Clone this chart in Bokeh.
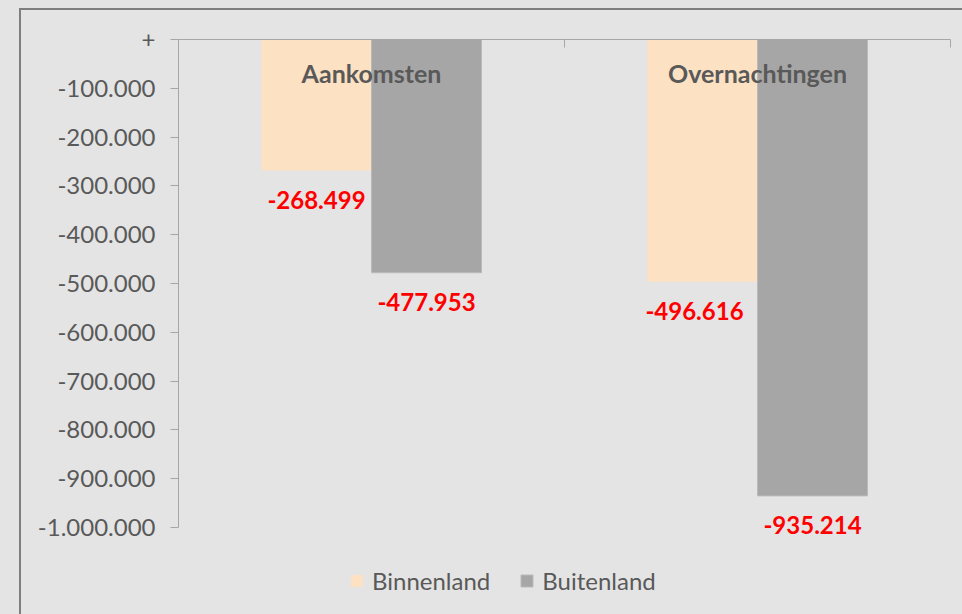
from bokeh.plotting import figure
from bokeh.models import (ColumnDataSource, Range1d, FixedTicker,
                          GlobalInlineStyleSheet)
from bokeh.core.properties import value
from bokeh.embed import file_html
from bokeh.resources import INLINE

# ---- data ----
categories = ["Aankomsten", "Overnachtingen"]
series_names = ["Binnenland", "Buitenland"]
binnenland = [-268499, -496616]
buitenland = [-477953, -935214]
y_ticks = [0, -100000, -200000, -300000, -400000, -500000,
           -600000, -700000, -800000, -900000, -1000000]
y_tick_labels = ["+", "-100.000", "-200.000", "-300.000", "-400.000", "-500.000",
                 "-600.000", "-700.000", "-800.000", "-900.000", "-1.000.000"]

def nl(v):
    return "{:,}".format(v).replace(",", ".")

BG = "#e4e4e4"
PEACH = "#fde1c3"
GREY = "#a6a6a6"
TXT = "#595959"
FONT = "Lato"

# ---- layout geometry (pixels) ----
W, H = 962, 614
PLOT_L, PLOT_T, PLOT_R, PLOT_B = 178, 39, 950, 527   # axis box of the plot area
y_min, y_max = min(y_ticks), max(y_ticks)
ncat = len(categories)
y_lo = y_max - (y_max - y_min) * (H - PLOT_T) / (PLOT_B - PLOT_T)
x_hi = ncat * (W - PLOT_L) / (PLOT_R - PLOT_L)
binnen_label_nudge = [0, -8]   # horizontal pixel nudge of Binnenland labels

css = ("body{background:%s;margin:0;}"
       "body::after{content:'';position:fixed;left:19px;top:8px;width:3000px;"
       "height:3000px;border-left:2px solid #7f7f7f;border-top:2px solid #7f7f7f;"
       "pointer-events:none;z-index:100;}" % BG)

p = figure(width=W, height=H, output_backend="svg", toolbar_location=None,
           x_range=Range1d(0, x_hi), y_range=Range1d(y_lo, y_max),
           x_axis_location="above",
           min_border_left=PLOT_L, min_border_top=PLOT_T, min_border_right=0,
           min_border_bottom=0,
           background_fill_color=BG, border_fill_color=BG, outline_line_color=None,
           stylesheets=[GlobalInlineStyleSheet(css=css)])

p.xgrid.visible = False
p.ygrid.visible = False

idx = list(range(ncat))
bw = 0.285
src = ColumnDataSource(dict(
    cat=categories,
    xc=[i + 0.5 for i in idx],
    x1=[i + 0.5 - bw / 2 for i in idx],
    x2=[i + 0.5 + bw / 2 for i in idx],
    b1=binnenland, b2=buitenland,
    l1=[nl(v) for v in binnenland], l2=[nl(v) for v in buitenland],
    n1=binnen_label_nudge, n2=[0] * ncat,
    zero=[0] * ncat,
))

p.vbar(x="x1", top="zero", bottom="b1", width=bw, source=src,
       fill_color=PEACH, line_color=None, legend_label=series_names[0])
p.vbar(x="x2", top="zero", bottom="b2", width=bw, source=src,
       fill_color=GREY, line_color="#bababa", line_width=1,
       legend_label=series_names[1])

# data labels
for xcol, ycol, lcol, ncol in [("x1", "b1", "l1", "n1"), ("x2", "b2", "l2", "n2")]:
    p.text(x=xcol, y=ycol, text=lcol, source=src, text_align="center",
           text_baseline="middle", x_offset=ncol, y_offset=29, text_color="#ff0000",
           text_font=value(FONT), text_font_style="bold", text_font_size="24px")

# category labels inside the plot at top
p.text(x="xc", y="zero", text="cat", source=src, text_align="center",
       text_baseline="middle", y_offset=33, text_color=TXT,
       text_font=value(FONT), text_font_style="bold", text_font_size="25px")

# x axis (top)
xa = p.xaxis[0]
xa.ticker = FixedTicker(ticks=[float(i) for i in range(ncat + 1)])
xa.bounds = (0, ncat)
xa.major_tick_in = 8
xa.major_tick_out = 0
xa.minor_tick_line_color = None
xa.major_label_text_font_size = "0px"
xa.major_label_text_alpha = 0
xa.axis_line_color = GREY
xa.major_tick_line_color = GREY

# y axis
ya = p.yaxis[0]
ya.ticker = FixedTicker(ticks=y_ticks)
ya.bounds = (y_min, y_max)
ya.major_label_overrides = {t: l for t, l in zip(y_ticks, y_tick_labels)}
ya.major_tick_in = 0
ya.major_tick_out = 8
ya.minor_tick_line_color = None
ya.axis_line_color = GREY
ya.major_tick_line_color = GREY
ya.major_label_text_color = TXT
ya.major_label_text_font = FONT
ya.major_label_text_font_size = "24px"
ya.major_label_standoff = 15

# legend
lg = p.legend[0]
lg.orientation = "horizontal"
lg.location = (171, 19)
lg.background_fill_alpha = 0
lg.border_line_color = None
lg.padding = 0
lg.margin = 0
lg.spacing = 29
lg.glyph_width = 15
lg.glyph_height = 15
lg.label_standoff = 8
lg.label_text_font = FONT
lg.label_text_font_size = "24px"
lg.label_text_color = TXT

open("out.html", "w").write(file_html(p, INLINE))
